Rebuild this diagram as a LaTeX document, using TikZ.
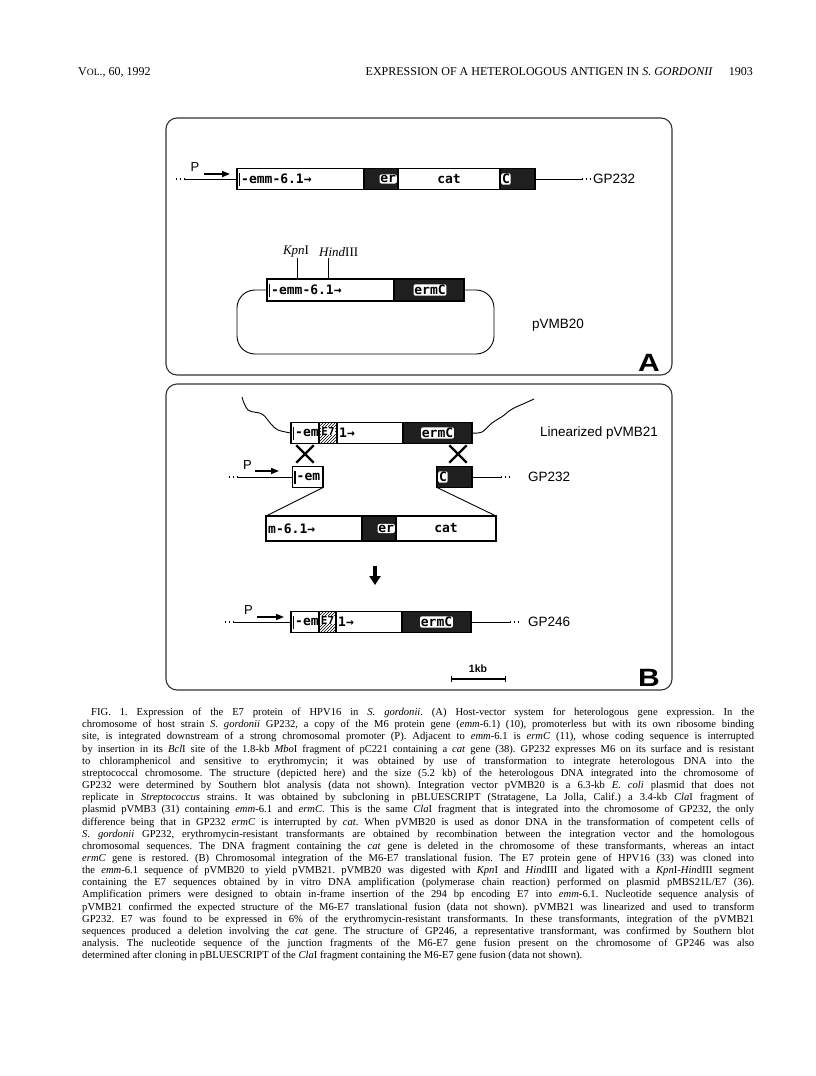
\documentclass[tikz,border=0pt]{standalone}
\usepackage{fontspec}
\setmainfont{Liberation Serif}
\newfontfamily\sansfnt{Liberation Sans}
\newfontfamily\monofnt{DejaVu Sans Mono}
\usepackage{tikz}
\usetikzlibrary{arrows.meta,positioning,patterns,shapes.misc}

\newcommand{\genetxt}{\monofnt\bfseries\fontsize{13}{13}\selectfont}
\newcommand{\lbltxt}{\sansfnt\fontsize{13.5}{15}\selectfont}

\begin{document}
\begin{tikzpicture}[x=1pt, y=-1pt,
    panel/.style={draw=black!80, line width=1.1pt, rounded corners=11pt},
    seg/.style={draw, line width=1.1pt, minimum height=21pt, inner sep=0pt, outer sep=0pt, anchor=west},
    wseg/.style={seg, fill=white},
    bseg/.style={seg, fill=black!88},
    hseg/.style={seg, pattern=north east lines},
    tag/.style={fill=white, rounded corners=2pt, inner sep=0.8pt, font=\genetxt},
    gtxt/.style={font=\genetxt, inner sep=0pt, anchor=west},
    dna/.style={line width=0.9pt},
    dots/.style={line width=1.1pt, dash pattern=on 1.2pt off 2.6pt},
    prom/.style={line width=1.6pt, -{Triangle[length=8pt,width=6pt]}},
    pname/.style={font=\sansfnt\fontsize{13}{13}\selectfont, inner sep=0pt},
    gname/.style={font=\lbltxt, anchor=west, inner sep=0pt},
    site/.style={font=\fontsize{13}{13}\selectfont, inner sep=0pt},
    letter/.style={font=\sansfnt\bfseries\fontsize{25}{25}\selectfont, inner sep=0pt, anchor=south east},
    tick/.style={line width=1.5pt}]
  \useasboundingbox (0,0) rectangle (816,1076);

  % running head
  \node[anchor=base west, font=\fontsize{12}{12}\selectfont, inner sep=0pt] (hdL) at (78,75) {V{\fontsize{9.6}{9.6}\selectfont OL}., 60, 1992};
  \node[anchor=base east, font=\fontsize{12}{12}\selectfont, inner sep=0pt] (hdT) at (713,75) {EXPRESSION OF A HETEROLOGOUS ANTIGEN IN \textit{S. GORDONII}};
  \node[anchor=base east, font=\fontsize{12}{12}\selectfont, inner sep=0pt] (hdP) at (753,75) {1903};

  % panels
  \draw[panel] (166,118) rectangle (672,375);
  \draw[panel] (166,384) rectangle (672,690);

  % GP232 row (A)
  \node[wseg, minimum width=127pt] (gEmm) at (237,179) {};
  \node[bseg, minimum width=34pt, right=0pt of gEmm] (gEr) {};
  \node[wseg, minimum width=102pt, right=0pt of gEr] (gCat) {};
  \node[bseg, minimum width=35pt, right=0pt of gCat] (gC) {};
  \node[gtxt] at ([xshift=4pt]gEmm.west) {-emm-6.1→};
  \node[tag, anchor=east] at ([xshift=-1pt]gEr.east) {er};
  \node[gtxt, anchor=center] at (gCat) {cat};
  \node[tag, anchor=west] at ([xshift=1pt]gC.west) {C};
  \coordinate (c1a) at (176,179); \coordinate (c1b) at (184,179);
  \coordinate (c1c) at (582,179); \coordinate (c1d) at (590,179);
  \draw[dna] (c1b) -- (gEmm.west);
  \draw[dna] (gC.east) -- (c1c);
  \node[gname] (n1) at (593,179) {GP232};
  \node[pname] (p1) at (195,167) {P};
  \coordinate (p1s) at (204,174); \coordinate (p1e) at (230,174);
  \draw[prom] (p1s) -- (p1e);

  % pVMB20 plasmid
  \node[wseg, minimum width=127pt, minimum height=22pt] (pEmm) at (267,290) {};
  \node[bseg, minimum width=70pt, minimum height=22pt, right=0pt of pEmm] (pErm) {};
  \node[gtxt] at ([xshift=4pt]pEmm.west) {-emm-6.1→};
  \node[tag] at ([xshift=1pt]pErm) {ermC};
  \coordinate (kpn) at (297,258); \coordinate (hin) at (328,258);
  \draw[dna] (kpn) -- (kpn |- pEmm.north);
  \draw[dna] (hin) -- (hin |- pEmm.north);
  \node[site, anchor=south] at (296,257) {\textit{Kpn}I};
  \node[site, anchor=south west] at (319,257) {\textit{Hind}III};
  \coordinate (lpA) at (237,354); \coordinate (lpB) at (494,290);
  \draw[dna, rounded corners=18pt] (pEmm.west) -| (lpA) -| (lpB) -- (pErm.east);
  \node[gname] (n2) at (532,325) {pVMB20};
  \node[letter] at (660,372) {\scalebox{1.2}[1]{A}};

  % linearized pVMB21 (B)
  \node[wseg, minimum width=28pt] (lEm) at (291,433) {};
  \node[hseg, minimum width=18pt, right=0pt of lEm] (lE7) {};
  \node[wseg, minimum width=66pt, right=0pt of lE7] (lOne) {};
  \node[bseg, minimum width=69pt, right=0pt of lOne] (lErm) {};
  \node[gtxt] at ([xshift=4pt]lEm.west) {-em};
  \node[fill=white, inner sep=0.4pt, font=\monofnt\bfseries\fontsize{11}{11}\selectfont] at ([yshift=2pt]lE7) {E7};
  \node[gtxt] at ([xshift=2pt]lOne.west) {1→};
  \node[tag] at (lErm) {ermC};
  \coordinate (wL) at (242,397); \coordinate (wR) at (534,399);
  \draw[dna] plot[smooth, tension=0.6] coordinates {(wL) (248,410) (262,414) (271,424) (278,430) (lEm.west)};
  \draw[dna] plot[smooth, tension=0.6] coordinates {(lErm.east) (482,432) (492,423) (503,416) (509,411) (516,407) (523,404) (wR)};
  \node[gname] (n3) at (540,433) {Linearized pVMB21};
  \node[draw, cross out, line width=2.4pt, minimum size=15pt] (xL) at (305,454) {};
  \node[draw, cross out, line width=2.4pt, minimum size=15pt] (xR) at (458,454) {};

  % GP232 row (B)
  \node[wseg, minimum width=30.5pt] (hEm) at (292.5,477) {};
  \node[bseg, minimum width=35pt] (hC) at (437,477) {};
  \node[gtxt] at ([xshift=4pt]hEm.west) {-em};
  \node[tag, anchor=west] at ([xshift=1pt]hC.west) {C};
  \coordinate (c2a) at (229,477); \coordinate (c2b) at (237,477);
  \coordinate (c2c) at (501,477); \coordinate (c2d) at (509,477);
  \draw[dna] (c2b) -- (hEm.west);
  \draw[dna] (hC.east) -- (c2c);
  \node[gname] (n4) at (528,477) {GP232};
  \node[pname] (p2) at (247.5,465) {P};
  \coordinate (p2s) at (255,471); \coordinate (p2e) at (279,471);
  \draw[prom] (p2s) -- (p2e);

  % region of GP232 replaced
  \node[wseg, minimum width=96pt, minimum height=25pt] (kM) at (266,528.5) {};
  \node[bseg, minimum width=34pt, minimum height=25pt, right=0pt of kM] (kEr) {};
  \node[wseg, minimum width=100pt, minimum height=25pt, right=0pt of kEr] (kCat) {};
  \node[gtxt] at ([xshift=2pt]kM.west) {m-6.1→};
  \node[tag, anchor=east] at ([xshift=-1pt]kEr.east) {er};
  \node[gtxt, anchor=center] at (kCat) {cat};
  \draw[dna] (hEm.south east) -- (kM.north west);
  \draw[dna] (hC.south west) -- (kCat.north east);
  \coordinate (dn1) at (375,566); \coordinate (dn2) at (375,585);
  \draw[line width=3.4pt, -{Triangle[length=9pt,width=11pt]}] (dn1) -- (dn2);

  % GP246 row
  \node[wseg, minimum width=28pt] (fEm) at (291,622) {};
  \node[hseg, minimum width=17pt, right=0pt of fEm] (fE7) {};
  \node[wseg, minimum width=66pt, right=0pt of fE7] (fOne) {};
  \node[bseg, minimum width=69pt, right=0pt of fOne] (fErm) {};
  \node[gtxt] at ([xshift=4pt]fEm.west) {-em};
  \node[fill=white, inner sep=0.4pt, font=\monofnt\bfseries\fontsize{11}{11}\selectfont] at ([yshift=2pt]fE7) {E7};
  \node[gtxt] at ([xshift=2pt]fOne.west) {1→};
  \node[tag] at (fErm) {ermC};
  \coordinate (c3a) at (225,622); \coordinate (c3b) at (233,622);
  \coordinate (c3c) at (510,622); \coordinate (c3d) at (518,622);
  \draw[dna] (c3b) -- (fEm.west);
  \draw[dna] (fErm.east) -- (c3c);
  \node[gname] (n5) at (528,622) {GP246};
  \node[pname] (p3) at (248.5,610) {P};
  \coordinate (p3s) at (257,617); \coordinate (p3e) at (284,617);
  \draw[prom] (p3s) -- (p3e);

  % dotted ends and start ticks
  \foreach \a/\b in {c1a/c1b, c1c/c1d, c2a/c2b, c2c/c2d, c3a/c3b, c3c/c3d} {
    \draw[dots] (\a) -- (\b);
  }
  \foreach \g in {gEmm, pEmm, lEm, hEm, fEm} {
    \draw[tick] ([xshift=2.5pt,yshift=-6.5pt]\g.west) -- ([xshift=2.5pt,yshift=6.5pt]\g.west);
  }

  % scale bar
  \node[font=\sansfnt\bfseries\fontsize{10.5}{10.5}\selectfont, inner sep=0pt] (kb) at (478,669) {1kb};
  \coordinate (kb1) at (451,679); \coordinate (kb2) at (506,679);
  \draw[line width=1.3pt, {Bar[width=6pt]}-{Bar[width=6pt]}] (kb1) -- (kb2);
  \node[letter] at (660,687) {\scalebox{1.2}[1]{B}};

  % legend
  \node[anchor=north west, text width=672pt, inner sep=0pt, align=justify,
        font=\fontsize{10.6}{12.15}\selectfont] (cap) at (82,708) {\frenchspacing\hyphenpenalty=10000\exhyphenpenalty=10000\tolerance=9999
    \hspace*{9pt}FIG. 1. Expression of the E7 protein of HPV16 in \textit{S. gordonii}. (A) Host-vector system for heterologous gene expression. In the\linebreak
    chromosome of host strain \textit{S. gordonii} GP232, a copy of the M6 protein gene (\textit{emm}-6.1) (10), promoterless but with its own ribosome binding\linebreak
    site, is integrated downstream of a strong chromosomal promoter (P). Adjacent to \textit{emm}-6.1 is \textit{ermC} (11), whose coding sequence is interrupted\linebreak
    by insertion in its \textit{Bcl}I site of the 1.8-kb \textit{Mbo}I fragment of pC221 containing a \textit{cat} gene (38). GP232 expresses M6 on its surface and is resistant\linebreak
    to chloramphenicol and sensitive to erythromycin; it was obtained by use of transformation to integrate heterologous DNA into the\linebreak
    streptococcal chromosome. The structure (depicted here) and the size (5.2 kb) of the heterologous DNA integrated into the chromosome of\linebreak
    GP232 were determined by Southern blot analysis (data not shown). Integration vector pVMB20 is a 6.3-kb \textit{E. coli} plasmid that does not\linebreak
    replicate in \textit{Streptococcus} strains. It was obtained by subcloning in pBLUESCRIPT (Stratagene, La Jolla, Calif.) a 3.4-kb \textit{Cla}I fragment of\linebreak
    plasmid pVMB3 (31) containing \textit{emm}-6.1 and \textit{ermC}. This is the same \textit{Cla}I fragment that is integrated into the chromosome of GP232, the only\linebreak
    difference being that in GP232 \textit{ermC} is interrupted by \textit{cat}. When pVMB20 is used as donor DNA in the transformation of competent cells of\linebreak
    \textit{S. gordonii} GP232, erythromycin-resistant transformants are obtained by recombination between the integration vector and the homologous\linebreak
    chromosomal sequences. The DNA fragment containing the \textit{cat} gene is deleted in the chromosome of these transformants, whereas an intact\linebreak
    \textit{ermC} gene is restored. (B) Chromosomal integration of the M6-E7 translational fusion. The E7 protein gene of HPV16 (33) was cloned into\linebreak
    the \textit{emm}-6.1 sequence of pVMB20 to yield pVMB21. pVMB20 was digested with \textit{Kpn}I and \textit{Hin}dIII and ligated with a \textit{Kpn}I-\textit{Hin}dIII segment\linebreak
    containing the E7 sequences obtained by in vitro DNA amplification (polymerase chain reaction) performed on plasmid pMBS21L/E7 (36).\linebreak
    Amplification primers were designed to obtain in-frame insertion of the 294 bp encoding E7 into \textit{emm}-6.1. Nucleotide sequence analysis of\linebreak
    pVMB21 confirmed the expected structure of the M6-E7 translational fusion (data not shown). pVMB21 was linearized and used to transform\linebreak
    GP232. E7 was found to be expressed in 6\% of the erythromycin-resistant transformants. In these transformants, integration of the pVMB21\linebreak
    sequences produced a deletion involving the \textit{cat} gene. The structure of GP246, a representative transformant, was confirmed by Southern blot\linebreak
    analysis. The nucleotide sequence of the junction fragments of the M6-E7 gene fusion present on the chromosome of GP246 was also\linebreak
    determined after cloning in pBLUESCRIPT of the \textit{Cla}I fragment containing the M6-E7 gene fusion (data not shown).};
\end{tikzpicture}
\end{document}
